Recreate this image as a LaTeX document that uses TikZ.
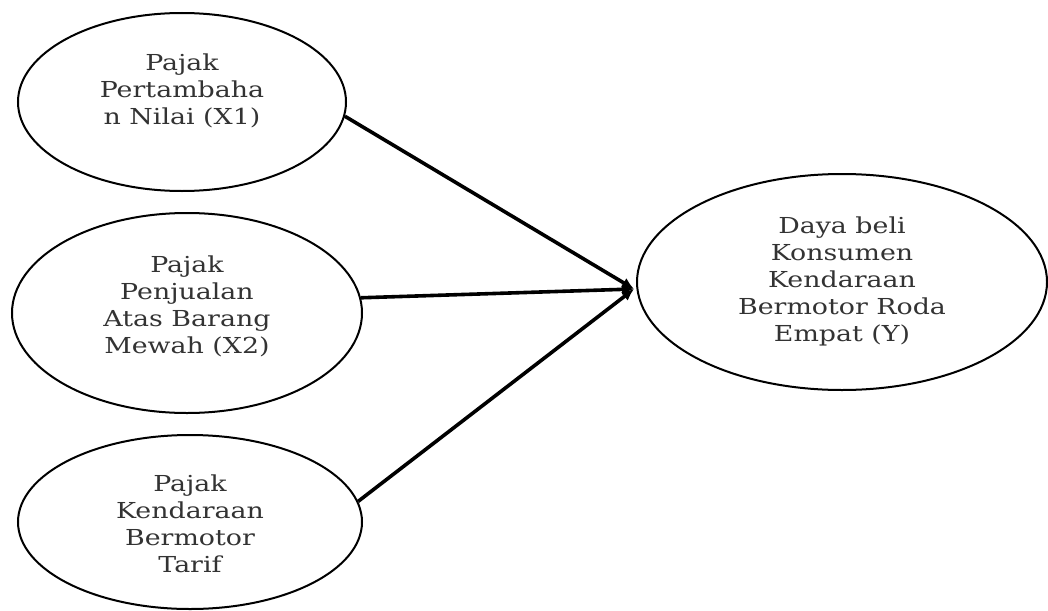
\documentclass[tikz,border=0pt]{standalone}
\usepackage{fontspec}
\setmainfont{DejaVu Serif}[FakeStretch=1.22]
\usetikzlibrary{shapes.geometric,arrows.meta}
\tikzset{
  var/.style={draw=black, line width=2pt, ellipse, inner sep=0pt},
  txt/.style={align=center, font=\fontsize{22}{27}\selectfont, text=black!80},
  arr/.style={line width=3.6pt, -{Latex[length=12pt,width=11pt]}}
}
\begin{document}
\begin{tikzpicture}[x=1pt,y=-1pt]
\useasboundingbox (0,0) rectangle (1048,610);
\node[var, minimum width=328pt, minimum height=178pt] (x1) at (182,102) {};
\node[txt] (t1) at (182,91) {Pajak\\Pertambaha\\n Nilai (X1)};
\node[var, minimum width=350pt, minimum height=200pt] (x2) at (187,313) {};
\node[txt] (t2) at (187,306) {Pajak\\Penjualan\\Atas Barang\\Mewah (X2)};
\node[var, minimum width=344pt, minimum height=174pt] (x3) at (190,522) {};
\node[txt] (t3) at (190,524) {Pajak\\Kendaraan\\Bermotor\\Tarif};
\node[var, minimum width=410pt, minimum height=216pt] (y) at (842,282) {};
\node[txt] (ty) at (842,281) {Daya beli\\Konsumen\\Kendaraan\\Bermotor Roda\\Empat (Y)};
\coordinate (tip) at (634,289);
\draw[arr] (x1.-5) -- (tip);
\draw[arr] (x2.5) -- (tip);
\draw[arr] (x3.7) -- (tip);
\end{tikzpicture}
\end{document}
